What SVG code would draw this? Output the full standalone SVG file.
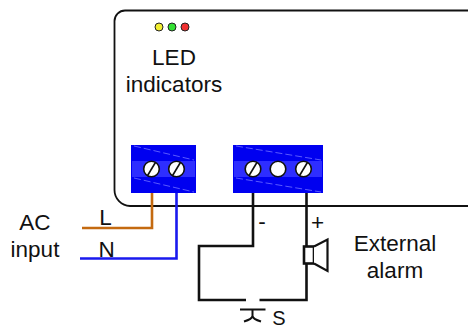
<svg xmlns="http://www.w3.org/2000/svg" width="468" height="329" viewBox="0 0 468 329">
<style>
text{font-family:"Liberation Sans",Arial,sans-serif;font-size:22.500px;fill:#111;text-anchor:middle}
.w{fill:none;stroke-width:2.600}
.k{stroke:#111}
.block{fill:#0000f0}
.band{fill:#2e2eff}
.hl{stroke:#5a5aff;stroke-width:1;stroke-dasharray:7 3;fill:none}
.scr{fill:#fff;stroke:#111;stroke-width:1.600}
.sl{stroke:#111;stroke-width:1.600}
.led{stroke:#222;stroke-width:1}
</style>
<defs>
<g id="screw"><circle class="scr" r="7.800"/><line class="sl" x1="-4.200" y1="7" x2="4.200" y2="-7"/></g>
</defs>
<g id="enclosure"><path d="M125 10.500H468M114.500 190V21A10.500 10.500 0 0 1 125 10.500M114.500 190A16 16 0 0 0 130 206H468" fill="none" stroke="#111" stroke-width="1.800"/></g>
<g id="connectors">
<path class="w" stroke="#c46a10" d="M82 228H152V192"/>
<path class="w" stroke="#1a1aee" d="M80 258.500H176.500V192"/>
<path class="w k" d="M253 192V246H199V300H246"/>
<path class="w k" d="M259.500 300H306.500V192"/>
</g>
<g id="led-indicators">
<circle class="led" cx="159" cy="27" r="4" fill="#f2ee30"/>
<circle class="led" cx="172" cy="27" r="4" fill="#33e033"/>
<circle class="led" cx="185" cy="27" r="4" fill="#f03030"/>
<text x="174" y="65">LED</text><text x="174" y="92">indicators</text>
</g>
<g id="terminal-left">
<rect class="block" x="131" y="145" width="65" height="48"/>
<rect class="band" x="132" y="161" width="63" height="16"/>
<path class="hl" d="M134 146L194 160M134 178L194 192"/>
<use href="#screw" x="151.500" y="169"/><use href="#screw" x="176.500" y="169"/>
</g>
<g id="terminal-right">
<rect class="block" x="233" y="145" width="90" height="48"/>
<rect class="band" x="234" y="161" width="88" height="16"/>
<path class="hl" d="M236 146L321 160M236 178L321 192"/>
<use href="#screw" x="253" y="169"/><circle class="scr" cx="278" cy="169" r="7.800"/><use href="#screw" x="303.500" y="169"/>
</g>
<g id="ac-input"><text x="35" y="230">AC</text><text x="35" y="257">input</text><text x="105.500" y="225">L</text><text x="106.500" y="257">N</text></g>
<g id="alarm">
<rect x="304" y="246.500" width="10" height="17" fill="#fff" stroke="#111" stroke-width="2.600"/>
<path d="M314 246.500L327.500 239.500V271L314 263.500" fill="#fff" stroke="#111" stroke-width="2.200"/>
<text x="262" y="229">-</text><text x="317.500" y="230">+</text>
<text x="395" y="251">External</text><text x="395" y="278">alarm</text>
</g>
<g id="switch-s">
<path d="M240 309.500H265.500M252.500 309.500V316M244 321.500Q252 319 252.500 316Q253 319 261 321.500" fill="none" stroke="#111" stroke-width="2"/>
<text x="279" y="324.500" style="font-size:20px">S</text>
</g>
</svg>
